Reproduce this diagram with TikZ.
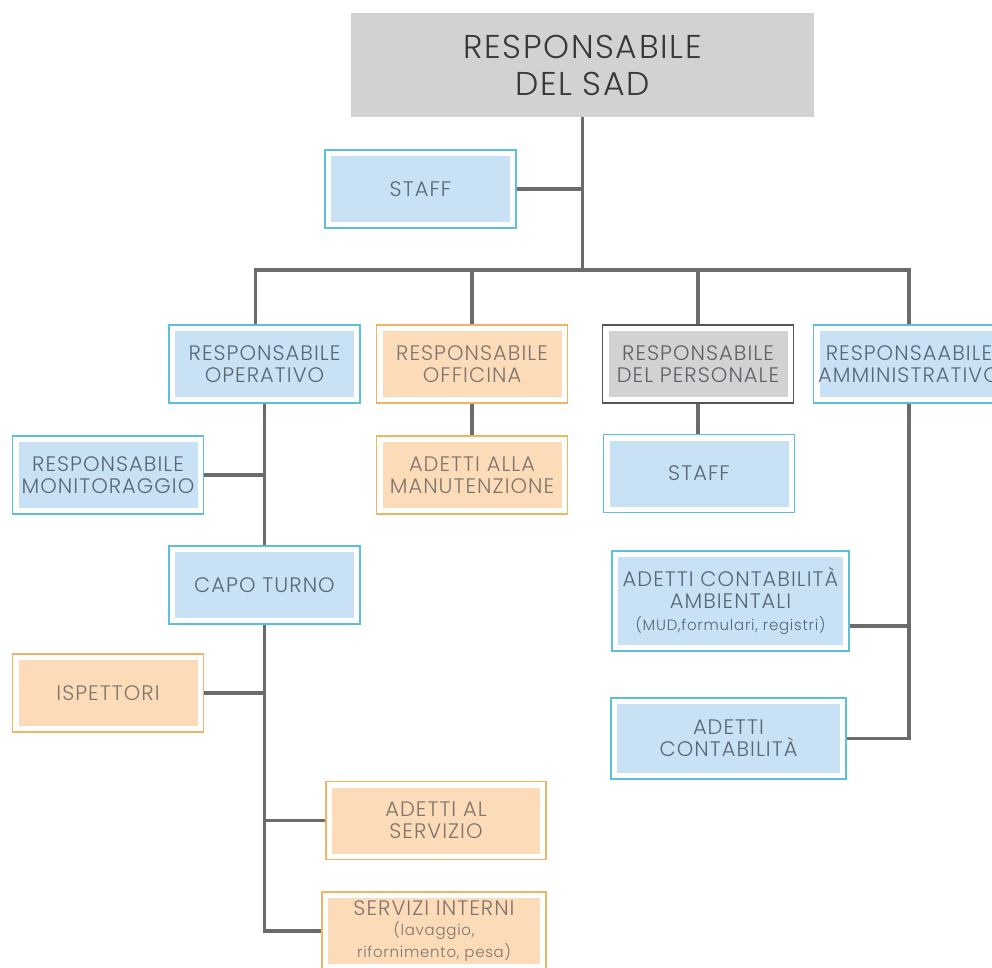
\documentclass[tikz,border=0pt]{standalone}
\usepackage{fontspec}
\setmainfont{Poppins}[UprightFont=* Light, LetterSpace=5]
\usetikzlibrary{positioning}

\definecolor{bluefill}{HTML}{C8E1F4}
\definecolor{blueline}{HTML}{5CC0D8}
\definecolor{bluetext}{HTML}{5A6672}
\definecolor{orangefill}{HTML}{FCDBB9}
\definecolor{orangeline}{HTML}{F2B463}
\definecolor{orangetext}{HTML}{7E746C}
\definecolor{grayfill}{HTML}{D0D2D4}
\definecolor{grayline}{HTML}{555555}
\definecolor{graytext}{HTML}{5D6166}
\definecolor{linkgray}{HTML}{6B6B6B}

\tikzset{
  unit/.style 2 args={draw=#1, line width=1.2pt, fill=white, text=#2, align=center,
    inner sep=0pt, minimum width=191pt, minimum height=78pt,
    font=\fontsize{21}{22}\selectfont},
  inset/.style={path picture={\fill[#1]
    ([shift={(6pt,-6pt)}]path picture bounding box.north west) rectangle
    ([shift={(-6pt,6pt)}]path picture bounding box.south east);}},
  bluebox/.style={unit={blueline}{bluetext}, inset=bluefill},
  orangebox/.style={unit={orangeline}{orangetext}, inset=orangefill},
  graybox/.style={unit={grayline}{graytext}, inset=grayfill},
  topbox/.style={fill=grayfill, text=black!78, align=center, inner sep=0pt,
    minimum width=463pt, minimum height=104pt, font=\fontsize{33}{37}\selectfont},
  link/.style={draw=linkgray, line width=3.5pt},
  note/.style={font=\fontsize{15}{18}\selectfont}
}

\begin{document}
\begin{tikzpicture}[x=1pt, y=-1pt]
    \path[use as bounding box] (0,0) rectangle (992,967);
    \clip (0,0) rectangle (992,967);

    % Top of the chart
    \node[topbox] (sad) at (582.5,65) {RESPONSABILE\\DEL SAD};
    \node[bluebox] (staffA) at (420.5,189) {STAFF};

    % Second level
    \node[bluebox] (oper) at (264.5,364) {RESPONSABILE\\OPERATIVO};
    \node[orangebox] (offic) at (472,364) {RESPONSABILE\\OFFICINA};
    \node[graybox] (pers) at (698,364) {RESPONSABILE\\DEL PERSONALE};
    \node[bluebox] (amm) at (909,364) {RESPONSAABILE\\AMMINISTRATIVO};

    % Operativo branch
    \node[bluebox] (monit) at (108,475) {RESPONSABILE\\MONITORAGGIO};
    \node[bluebox] (capo) at (264.5,585) {CAPO TURNO};
    \node[orangebox] (isp) at (108,693) {ISPETTORI};
    \node[orangebox, minimum width=220pt] (servizio) at (436,820.5) {ADETTI AL\\SERVIZIO};
    \node[orangebox, minimum width=224pt] (interni) at (434,931)
        {SERVIZI INTERNI\\[-2pt]{\fontsize{15}{18}\selectfont(lavaggio,}\\
         {\fontsize{15}{18}\selectfont rifornimento, pesa)}};

    % Officina and personale branches
    \node[orangebox] (manut) at (472,475) {ADETTI ALLA\\MANUTENZIONE};
    \node[bluebox] (staffB) at (699,473.5) {STAFF};

    % Amministrativo branch
    \node[bluebox, minimum width=237pt, minimum height=100pt] (contamb) at (730.5,601)
        {ADETTI CONTABILIT\`A\\AMBIENTALI\\{\fontsize{15}{19}\selectfont(MUD,formulari, registri)}};
    \node[bluebox, minimum width=235pt, minimum height=81pt] (conta) at (728.5,738.5)
        {ADETTI\\CONTABILIT\`A};

    % Connectors
    \coordinate (bus) at (0,270);
    \draw[link] (sad.south) -- (sad.south |- bus);
    \draw[link] (staffA.east) -- (staffA.east -| sad.south);
    \draw[link] ([xshift=-9pt]oper.north) |- (amm.north |- bus) -- (amm.north);
    \draw[link] (offic.north) -- (offic.north |- bus);
    \draw[link] (pers.north) -- (pers.north |- bus);

    \draw[link] (oper.south) -- (capo.north);
    \draw[link] (monit.east) -- (monit.east -| oper.south);
    \draw[link] (capo.south) |- (interni.west);
    \draw[link] (isp.east) -- (isp.east -| capo.south);
    \draw[link] (servizio.west) -- (servizio.west -| capo.south);

    \draw[link] (offic.south) -- (manut.north);
    \draw[link] (pers.south) -- (pers.south |- staffB.north);

    \draw[link] (amm.south) |- (conta.east);
    \draw[link] ([yshift=-25pt]contamb.east) -- ([yshift=-25pt]contamb.east -| amm.south);
\end{tikzpicture}
\end{document}
